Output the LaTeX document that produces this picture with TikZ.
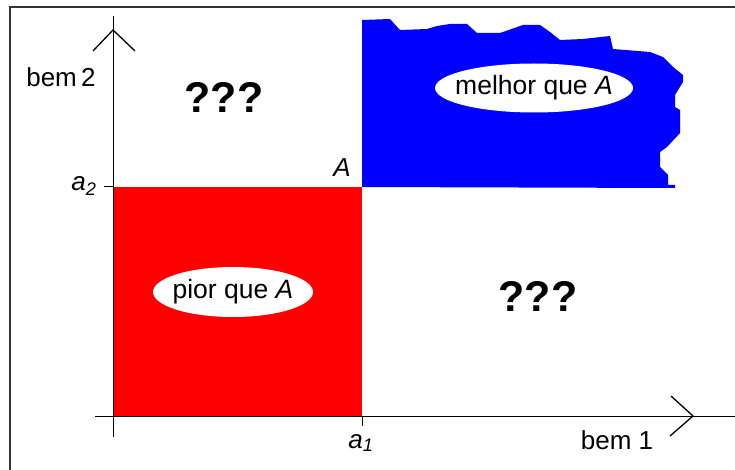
\documentclass[tikz,border=0pt]{standalone}
\usepackage{fontspec}
\setmainfont{Liberation Sans}
\usetikzlibrary{shapes.geometric}
\begin{document}
\begin{tikzpicture}[x=1pt,y=-1pt,
  axisline/.style={draw=black,line width=1pt},
  armline/.style={draw=black,line width=1.3pt},
  lbl/.style={inner sep=0pt,font=\fontsize{26}{26}\selectfont},
  qq/.style={inner sep=0pt,font=\fontsize{43}{43}\selectfont\bfseries},
  oval/.style={ellipse,fill=white,inner xsep=-14pt,inner ysep=-6pt,font=\fontsize{26.5}{26.5}\selectfont}]
\useasboundingbox (0,0) rectangle (735,470);
\fill[white] (0,0) rectangle (735,470);
% frame
\draw[black!80,line width=1.5pt] (10,470) -- (10,7) -- (735,7);
% regions
\fill[red] (113,187) rectangle (362,416);
\fill[blue] (362,187) -- (362,20) -- (390,19) -- (400,30) -- (427,29) -- (437,26) -- (450,24) -- (467,24)
  -- (477,33) -- (500,33) -- (523,25) -- (540,25) -- (550,32) -- (560,40) -- (583,39) -- (610,36)
  -- (613,49) -- (650,52) -- (663,57) -- (673,67) -- (683,75) -- (683,82) -- (675,95) -- (675,107)
  -- (680,110) -- (680,133) -- (667,147) -- (660,152) -- (660,167) -- (668,175) -- (668,185)
  -- (675,185) -- (675,188) -- cycle;
% axes
\coordinate (O) at (113,416);
\coordinate (ybot) at (113,437);
\coordinate (ytop) at (113,16);
\coordinate (xl) at (95,416);
\coordinate (xr) at (735,416);
\coordinate (yapex) at (113,30);
\coordinate (yarmL) at (93,51);
\coordinate (yarmR) at (135,51);
\coordinate (xapex) at (693,416);
\coordinate (xarmU) at (671,396);
\coordinate (xarmD) at (670,436);
\coordinate (a1t) at (362,416);
\coordinate (a1b) at (362,426);
\coordinate (a2l) at (104,187);
\coordinate (a2r) at (113,187);
\draw[axisline] (ybot) -- (ytop);
\draw[axisline] (xl) -- (xr);
\draw[armline] (yarmL) -- (yapex) -- (yarmR);
\draw[armline] (xarmU) -- (xapex) -- (xarmD);
\draw[axisline] (a1t) -- (a1b);
\draw[axisline] (a2l) -- (a2r);
% labels
\node[lbl] (b2) at (61,77) {bem\,2};
\node[lbl] (b1) at (617,440) {bem 1};
\node[lbl] (a2) at (84,186) {\itshape a\textsubscript{2}};
\node[lbl] (a1) at (361,443) {\itshape a\textsubscript{1}};
\node[lbl] (A) at (342,168) {\itshape A};
\node[qq] (q1) at (224,97) {???};
\node[qq] (q2) at (538,296) {???};
\node[oval,minimum width=198pt,minimum height=49pt] (m) at (534,88) {melhor que \itshape A};
\node[oval,minimum width=160pt,minimum height=50pt] (p) at (233,292) {pior que \itshape A};
\end{tikzpicture}
\end{document}
